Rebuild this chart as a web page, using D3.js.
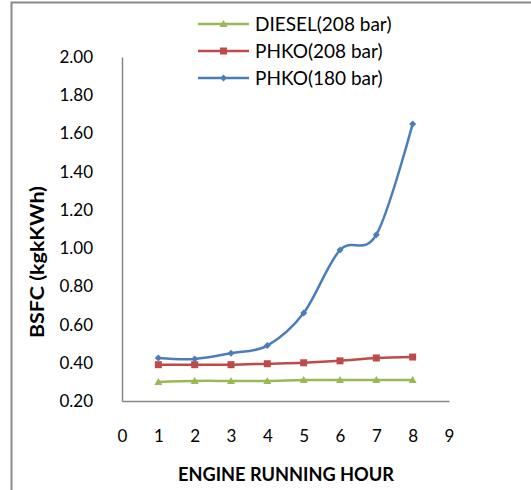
<!DOCTYPE html>
<html>
<head>
<meta charset="utf-8">
<script src="https://cdn.jsdelivr.net/npm/d3@7"></script>
<style>
  html, body { margin: 0; padding: 0; background: #fff; }
  svg { display: block; }
  text { font-family: Lato, "Open Sans", sans-serif; fill: #000; }
</style>
</head>
<body>
<svg id="chart" width="531" height="490"></svg>
<script>
// Engine running hours (x) and brake specific fuel consumption per fuel (y)
const hours = [1, 2, 3, 4, 5, 6, 7, 8];
const diesel208 = [0.30, 0.305, 0.305, 0.305, 0.31, 0.31, 0.31, 0.31];
const phko208 = [0.39, 0.39, 0.39, 0.395, 0.40, 0.41, 0.425, 0.43];
const phko180 = [0.425, 0.42, 0.45, 0.49, 0.66, 0.99, 1.07, 1.65];
const xTicks = [0, 1, 2, 3, 4, 5, 6, 7, 8, 9];
const yTicks = [0.2, 0.4, 0.6, 0.8, 1.0, 1.2, 1.4, 1.6, 1.8, 2.0];

const series = [
  { name: "DIESEL(208 bar)", values: diesel208, color: "#98b954", marker: "triangle" },
  { name: "PHKO(208 bar)",   values: phko208,   color: "#be4b48", marker: "square" },
  { name: "PHKO(180 bar)",   values: phko180,   color: "#4a7ebb", marker: "diamond" }
];

const svg = d3.select("#chart");

// outer chart frame (only the top and left edges fall inside the canvas)
svg.append("rect")
  .attr("x", 11.5).attr("y", 2.5)
  .attr("width", 560).attr("height", 520)
  .attr("fill", "none")
  .attr("stroke", "#8a8a8a")
  .attr("stroke-width", 2);

const x = d3.scaleLinear().domain([0, 9]).range([122, 449]);
const y = d3.scaleLinear().domain([0.2, 2.0]).range([401, 57]);

const axisColor = "#868686";

// y axis
const yAxis = svg.append("g")
  .attr("transform", `translate(${x(0)},0)`)
  .call(d3.axisLeft(y).tickValues(yTicks).tickFormat(d3.format(".2f")).tickSize(0).tickPadding(29));
yAxis.select(".domain").attr("stroke", axisColor).attr("stroke-width", 1.5);
yAxis.selectAll("text").attr("font-size", 17).attr("font-family", "Lato, sans-serif");

// x axis (drawn at the bottom of the value range)
const xAxis = svg.append("g")
  .attr("transform", `translate(0,${y(0.2)})`)
  .call(d3.axisBottom(x).tickValues(xTicks).tickFormat(d3.format("d")).tickSize(0).tickPadding(29));
xAxis.select(".domain").attr("stroke", axisColor).attr("stroke-width", 1.5);
xAxis.selectAll("text").attr("font-size", 17).attr("font-family", "Lato, sans-serif");

// axis titles
svg.append("text")
  .attr("x", (x(0) + x(9)) / 2 + 0.5)
  .attr("y", 481)
  .attr("text-anchor", "middle")
  .attr("font-size", 18)
  .attr("font-weight", "bold")
  .attr("textLength", 216)
  .attr("lengthAdjust", "spacingAndGlyphs")
  .text("ENGINE RUNNING HOUR");

svg.append("text")
  .attr("transform", `translate(44,262) rotate(-90)`)
  .attr("text-anchor", "middle")
  .attr("font-size", 18)
  .attr("font-weight", "bold")
  .attr("textLength", 152)
  .attr("lengthAdjust", "spacingAndGlyphs")
  .text("BSFC (kgkKWh)");

// marker shapes
function marker(sel, kind, color) {
  if (kind === "square") {
    sel.append("rect").attr("x", -3.5).attr("y", -3.5).attr("width", 7).attr("height", 7).attr("fill", color);
  } else if (kind === "triangle") {
    sel.append("path").attr("d", "M0,-4L4,3L-4,3Z").attr("fill", color);
  } else {
    sel.append("path").attr("d", "M0,-3.5L3.5,0L0,3.5L-3.5,0Z").attr("fill", color);
  }
}

const line = d3.line()
  .x((d, i) => x(hours[i]))
  .y(d => y(d))
  .curve(d3.curveCatmullRom.alpha(0));

series.forEach(s => {
  svg.append("path")
    .attr("d", line(s.values))
    .attr("fill", "none")
    .attr("stroke", s.color)
    .attr("stroke-width", 2.5)
    .attr("stroke-linejoin", "round");
  s.values.forEach((v, i) => {
    const g = svg.append("g").attr("transform", `translate(${x(hours[i])},${y(v)})`);
    marker(g, s.marker, s.color);
  });
});

// legend
const legendY = [24, 51, 78];
series.forEach((s, i) => {
  const g = svg.append("g").attr("transform", `translate(0,${legendY[i]})`);
  g.append("line").attr("x1", 198).attr("x2", 249).attr("y1", 0).attr("y2", 0)
    .attr("stroke", s.color).attr("stroke-width", 2.5);
  const m = g.append("g").attr("transform", "translate(223.5,0)");
  marker(m, s.marker, s.color);
  g.append("text").attr("x", 255).attr("y", 7)
    .attr("font-size", 19)
    .text(s.name);
});
</script>
</body>
</html>
